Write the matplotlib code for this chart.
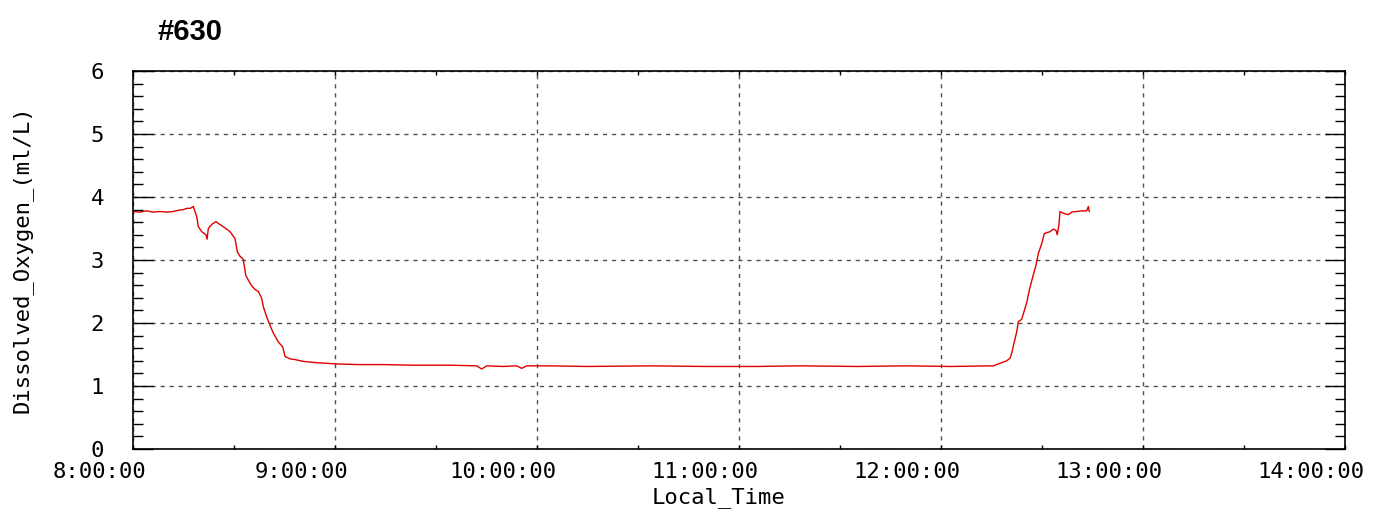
import matplotlib
matplotlib.use("Agg")
import matplotlib.pyplot as plt
from matplotlib.ticker import FixedLocator, MultipleLocator, FuncFormatter
from matplotlib.transforms import ScaledTranslation
import numpy as np

# Dissolved oxygen record, dive #630
title = "#630"
start_hour = 8.0
# minutes after 8:00:00
minutes = [0.0, 2.0, 4.0, 6.0, 8.0, 10.0, 12.0, 13.5, 15.0, 15.95, 17.0, 17.91,
           18.92, 19.40, 20.41, 21.68, 22.0, 22.37, 23.5, 24.65, 25.34, 26.5,
           27.83, 28.81, 30.30, 30.98, 31.78, 32.76, 33.48, 34.25, 35.26, 36.3,
           37.22, 38.23, 38.71, 39.50, 40.49, 41.67, 43.16, 44.47, 45.15, 46.63,
           48.12, 50.58, 54.57, 60.50, 67.0, 74.35, 84.0, 94.16, 102.09, 103.57,
           105.06, 110.0, 113.97, 115.46, 116.94, 123.86, 135.0, 153.56, 170.0,
           185.0, 198.12, 215.0, 230.0, 242.67, 255.54, 257.52, 259.51, 260.50,
           261.00, 261.68, 262.49, 262.96, 263.97, 264.65, 265.45, 266.23, 267.24,
           268.22, 268.90, 269.91, 270.69, 272.38, 273.37, 274.16, 274.54, 275.05,
           275.35, 276.33, 277.82, 278.82, 281.79, 283.28, 283.76, 284.05]
oxygen = [3.77, 3.76, 3.78, 3.76, 3.77, 3.76, 3.77, 3.79, 3.80, 3.82, 3.82, 3.85,
          3.69, 3.53, 3.45, 3.40, 3.33, 3.50, 3.57, 3.61, 3.58, 3.54,
          3.49, 3.45, 3.34, 3.13, 3.06, 3.01, 2.76, 2.68, 2.59, 2.53,
          2.50, 2.39, 2.26, 2.13, 1.99, 1.84, 1.70, 1.62, 1.47, 1.43,
          1.42, 1.39, 1.37, 1.35, 1.34, 1.34, 1.33, 1.33, 1.32, 1.27,
          1.32, 1.31, 1.32, 1.28, 1.32, 1.32, 1.31, 1.32, 1.31,
          1.31, 1.32, 1.31, 1.32, 1.31, 1.32, 1.36, 1.40, 1.44,
          1.52, 1.68, 1.86, 2.02, 2.06, 2.18, 2.32, 2.52, 2.73,
          2.92, 3.10, 3.26, 3.42, 3.45, 3.49, 3.47, 3.40, 3.57,
          3.77, 3.74, 3.72, 3.76, 3.78, 3.78, 3.85, 3.77]

x_hours = [8, 9, 10, 11, 12, 13, 14]
y_ticks = [0, 1, 2, 3, 4, 5, 6]

t = start_hour + np.array(minutes) / 60.0

fig = plt.figure(figsize=(13.84, 5.14), dpi=100)
ax = fig.add_axes([133 / 1384, 65 / 514, 1212 / 1384, 378 / 514])

ax.plot(t, oxygen, color="#e00000", linewidth=1.0)

ax.set_xlim(x_hours[0], x_hours[-1])
ax.set_ylim(y_ticks[0], y_ticks[-1])

ax.xaxis.set_major_locator(FixedLocator(x_hours))
ax.xaxis.set_minor_locator(MultipleLocator(0.5))
ax.yaxis.set_major_locator(FixedLocator(y_ticks))
ax.yaxis.set_minor_locator(MultipleLocator(0.2))
ax.xaxis.set_major_formatter(FuncFormatter(lambda v, p: f"{int(round(v))}:00:00"))
ax.yaxis.set_major_formatter(FuncFormatter(lambda v, p: f"{int(round(v))}"))

mono = "DejaVu Sans Mono"
ax.tick_params(axis="both", which="both", direction="in", top=True, right=True,
               colors="black", width=1.0)
ax.tick_params(axis="y", which="major", length=14.5, pad=21)
ax.tick_params(axis="y", which="minor", length=7.2)
ax.tick_params(axis="x", which="both", length=3, pad=9)

# time labels sit a little to the left of their tick marks
shift = ScaledTranslation(-34 / 100, 0, fig.dpi_scale_trans)
for lab in ax.get_xticklabels():
    lab.set_transform(lab.get_transform() + shift)
for lab in ax.get_xticklabels() + ax.get_yticklabels():
    lab.set_fontfamily(mono)
    lab.set_fontsize(16)

ax.grid(True, which="major", color="#505050", linestyle=(0, (3, 3.5)), linewidth=1.0)
for s in ax.spines.values():
    s.set_linewidth(1.2)

fig.text(22 / 1384, 1 - 259 / 514, "Dissolved_Oxygen_(ml/L)", rotation=90,
         ha="center", va="center", family=mono, fontsize=16)
fig.text(719 / 1384, 1 - 498 / 514, "Local_Time", ha="center", va="center",
         family=mono, fontsize=16)
fig.text(158 / 1384, 1 - 40 / 514, title, ha="left", va="baseline",
         family="Liberation Sans", fontweight="bold", fontsize=21)

fig.savefig("out.png", dpi=100)
